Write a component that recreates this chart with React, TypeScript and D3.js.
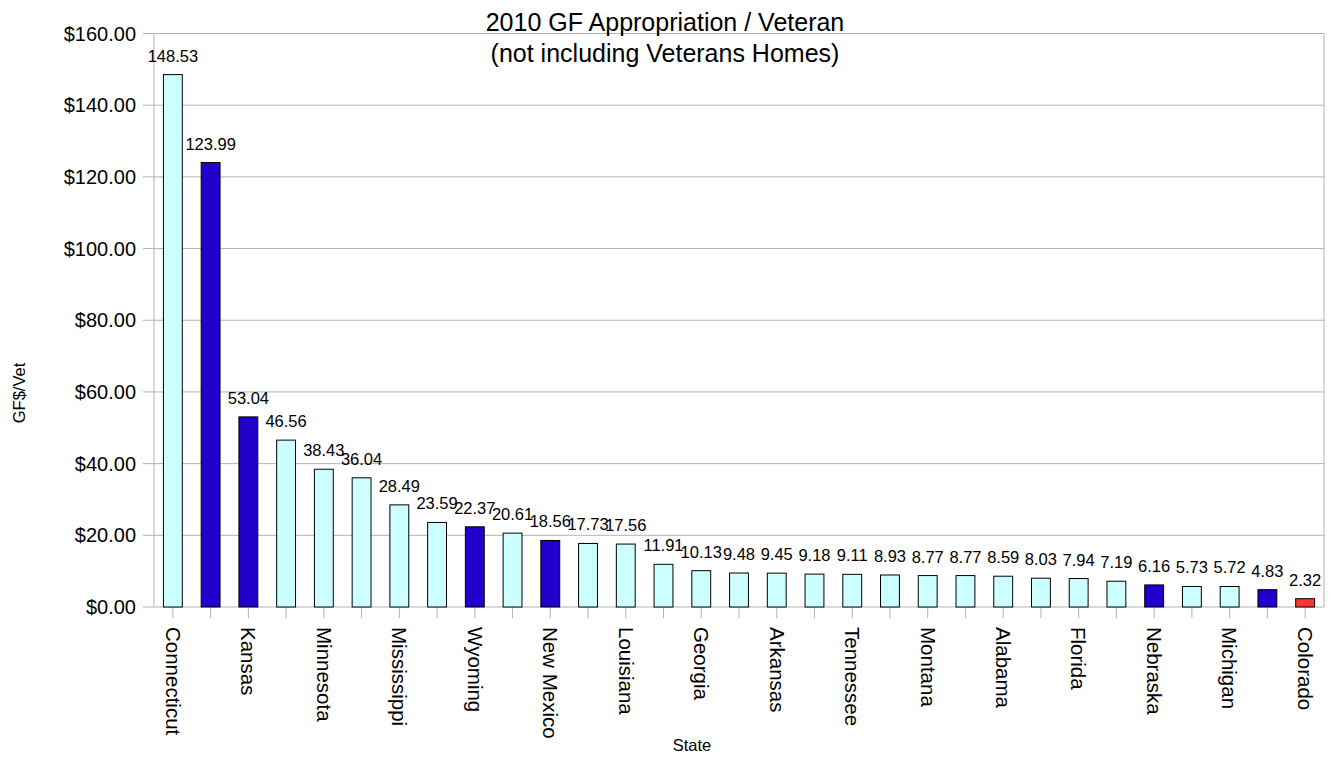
import React from "react";
import * as d3 from "d3";

const states = [
  "Connecticut", "", "Kansas", "", "Minnesota", "", "Mississippi", "", "Wyoming", "",
  "New Mexico", "", "Louisiana", "", "Georgia", "", "Arkansas", "", "Tennessee", "",
  "Montana", "", "Alabama", "", "Florida", "", "Nebraska", "", "Michigan", "", "Colorado",
];
const values = [
  148.53, 123.99, 53.04, 46.56, 38.43, 36.04, 28.49, 23.59, 22.37, 20.61,
  18.56, 17.73, 17.56, 11.91, 10.13, 9.48, 9.45, 9.18, 9.11, 8.93,
  8.77, 8.77, 8.59, 8.03, 7.94, 7.19, 6.16, 5.73, 5.72, 4.83, 2.32,
];
// group: 0 = light, 1 = dark blue, 2 = red
const groups = [
  0, 1, 1, 0, 0, 0, 0, 0, 1, 0,
  1, 0, 0, 0, 0, 0, 0, 0, 0, 0,
  0, 0, 0, 0, 0, 0, 1, 0, 0, 1, 2,
];
const yTicks = [0, 20, 40, 60, 80, 100, 120, 140, 160];
const groupColors = ["#ccffff", "#2200cc", "#ff3333"];

const W = 1333, H = 757;
const left = 154, right = 1324, top = 33.5, bottom = 607;
const font = "'Liberation Sans', Arial, sans-serif";

export default function App() {
  const idx = values.map((_, i) => i);
  const x = d3.scaleBand<number>().domain(idx).range([left, right]).paddingInner(0.5).paddingOuter(0.25);
  const y = d3.scaleLinear().domain([0, 160]).range([bottom, top]);
  const fmt = d3.format(",.2f");
  return (
    <svg width={W} height={H} style={{ position: "absolute", left: 0, top: 0, background: "#fff" }} fontFamily={font}>
      {yTicks.map((t) => (
        <g key={t}>
          <line x1={left - 11} x2={right} y1={y(t)} y2={y(t)} stroke="#b3b3b3" strokeWidth={1} />
          <text x={136} y={y(t)} dy="0.35em" textAnchor="end" fontSize={20} fill="#000">
            {"$" + fmt(t)}
          </text>
        </g>
      ))}
      <line x1={left} x2={left} y1={top} y2={bottom} stroke="#b3b3b3" />
      <line x1={right} x2={right} y1={top} y2={bottom} stroke="#b3b3b3" />
      {idx.map((i) => {
        const cx = (x(i) as number) + x.bandwidth() / 2;
        return <line key={"t" + i} x1={cx} x2={cx} y1={bottom} y2={bottom + 11} stroke="#b3b3b3" />;
      })}
      {idx.map((i) => (
        <rect
          key={"b" + i}
          x={x(i)}
          y={y(values[i])}
          width={x.bandwidth()}
          height={bottom - y(values[i])}
          fill={groupColors[groups[i]]}
          stroke="#000"
          strokeWidth={1}
        />
      ))}
      {idx.map((i) => (
        <text
          key={"l" + i}
          x={(x(i) as number) + x.bandwidth() / 2}
          y={y(values[i]) - 13}
          textAnchor="middle"
          fontSize={16.5}
          fill="#000"
        >
          {values[i].toFixed(2)}
        </text>
      ))}
      {idx.filter((i) => states[i] !== "").map((i) => {
        const cx = (x(i) as number) + x.bandwidth() / 2;
        return (
          <text
            key={"c" + i}
            transform={`translate(${cx},${627}) rotate(90)`}
            dy="0.35em"
            textAnchor="start"
            fontSize={20.5}
            fill="#000"
          >
            {states[i]}
          </text>
        );
      })}
      <text x={665} y={31} textAnchor="middle" fontSize={25} fill="#000">
        2010 GF Appropriation / Veteran
      </text>
      <text x={665} y={62} textAnchor="middle" fontSize={25} fill="#000">
        (not including Veterans Homes)
      </text>
      <text transform={`translate(25,393) rotate(-90)`} textAnchor="middle" fontSize={16.5} fill="#000">
        GF$/Vet
      </text>
      <text x={692} y={751} textAnchor="middle" fontSize={16.5} fill="#000">
        State
      </text>
    </svg>
  );
}
